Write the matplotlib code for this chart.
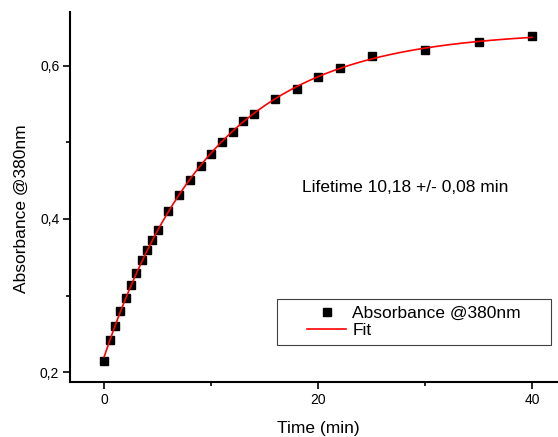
import numpy as np
from matplotlib import pyplot as plt
from matplotlib.patches import Rectangle
from matplotlib.ticker import FuncFormatter, MultipleLocator

plt.rcParams['font.family'] = ['Liberation Sans', 'DejaVu Sans']

# measured points
time_min = [0, 0.5, 1, 1.5, 2, 2.5, 3, 3.5, 4, 4.5, 5, 6, 7, 8, 9, 10,
            11, 12, 13, 14, 16, 18, 20, 22, 25, 30, 35, 40]
absorbance = [0.215, 0.242, 0.260, 0.280, 0.297, 0.314, 0.329, 0.346, 0.360,
              0.372, 0.385, 0.410, 0.431, 0.451, 0.469, 0.485, 0.501, 0.514,
              0.528, 0.537, 0.557, 0.570, 0.585, 0.597, 0.612, 0.621, 0.631,
              0.639]
lifetime = 10.18
lifetime_err = 0.08

# fit y = a + b*exp(-t/tau) with tau fixed, a and b by least squares
t = np.array(time_min)
y = np.array(absorbance)
design = np.column_stack([np.ones_like(t), np.exp(-t / lifetime)])
(a, b), *_ = np.linalg.lstsq(design, y, rcond=None)
t_fit = np.linspace(0, 40, 300)
y_fit = a + b * np.exp(-t_fit / lifetime)

fig = plt.figure(figsize=(5.58, 4.37), dpi=100)
ax = fig.add_axes([0.1263, 0.1265, 0.8737, 0.846])

ax.plot(t, y, 's', color='black', markersize=5.3, zorder=2,
        label='Absorbance @380nm')
ax.plot(t_fit, y_fit, '-', color='red', lw=1.2, zorder=3, label='Fit')

ax.set_xlim(-3.15, 42.4)
ax.set_ylim(0.1877, 0.670)

for side in ['top', 'right']:
    ax.spines[side].set_visible(False)
for side in ['left', 'bottom']:
    ax.spines[side].set_linewidth(1.5)

ax.xaxis.set_major_locator(MultipleLocator(20))
ax.xaxis.set_minor_locator(MultipleLocator(10))
ax.yaxis.set_major_locator(MultipleLocator(0.2))
ax.yaxis.set_minor_locator(MultipleLocator(0.1))
ax.xaxis.set_major_formatter(FuncFormatter(lambda v, p: f"{v:.0f}"))
ax.yaxis.set_major_formatter(FuncFormatter(lambda v, p: f"{v:.1f}".replace('.', ',')))
ax.tick_params(which='major', length=5, width=1.2, labelsize=10, pad=3)
ax.tick_params(which='minor', length=3, width=1.2)

ax.set_xlabel('Time (min)', fontsize=12.5)
ax.set_ylabel('Absorbance @380nm', fontsize=12.5)
ax.xaxis.set_label_coords(0.508, -0.106)
ax.yaxis.set_label_coords(-0.085, 0.467)

ax.text(18.46, 0.4405,
        f"Lifetime {lifetime:.2f} +/- {lifetime_err:.2f} min".replace('.', ','),
        fontsize=12.5, ha='left', va='center')

# legend box drawn separately to get the wide side padding
ax.add_patch(Rectangle((0.4236, 0.0993), 0.562, 0.1244, transform=ax.transAxes,
                       fill=False, edgecolor='#404040', lw=0.8, zorder=4))
ax.legend(loc='center', bbox_to_anchor=(0.7046, 0.1615), frameon=False,
          fontsize=12.5, numpoints=1, handlelength=2.25, handletextpad=0.35,
          labelspacing=0.15, borderpad=0.25, borderaxespad=0)

fig.savefig('out.png', dpi=100)
